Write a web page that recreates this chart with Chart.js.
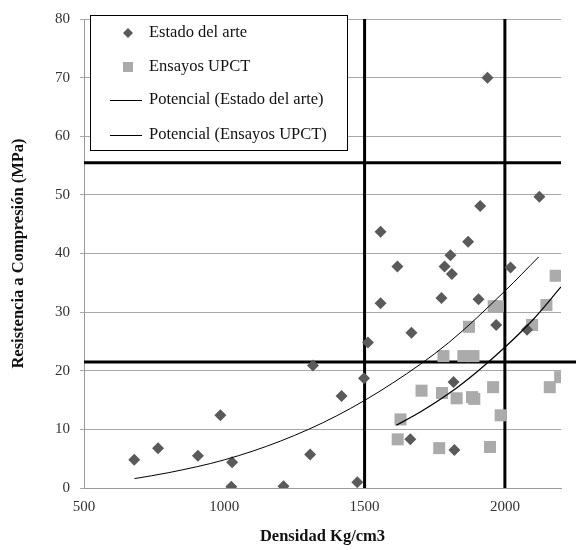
<!DOCTYPE html>
<html>
<head>
<meta charset="utf-8">
<script src="https://cdn.jsdelivr.net/npm/chart.js@4/dist/chart.umd.min.js"></script>
<style>
  html, body { margin: 0; padding: 0; background: #fff; }
  #wrap { width: 576px; height: 550px; }
</style>
</head>
<body>
<div id="wrap"><canvas id="canvas" width="576" height="550"></canvas></div>
<script>
// Estado del arte (diamantes)
var estadoX = [679, 764, 906, 986, 1028, 1025, 1211, 1306, 1316, 1418, 1474, 1498, 1512, 1557, 1557, 1617,
               1663, 1667, 1774, 1785, 1806, 1811, 1817, 1820, 1869, 1906, 1912, 1938, 1969, 2020, 2079, 2123];
var estadoY = [4.8, 6.8, 5.5, 12.4, 4.4, 0.2, 0.3, 5.7, 20.9, 15.7, 1.0, 18.7, 24.8, 43.7, 31.5, 37.8,
               8.3, 26.5, 32.4, 37.8, 39.7, 36.5, 18.1, 6.5, 42.0, 32.2, 48.1, 70.0, 27.8, 37.6, 27.0, 49.7];

// Ensayos UPCT (cuadrados)
var upctX = [1618, 1628, 1703, 1766, 1776, 1781, 1828, 1852, 1872, 1883, 1888, 1891, 1947, 1958, 1960, 1975,
             1985, 2097, 2148, 2160, 2181, 2197];
var upctY = [8.3, 11.7, 16.6, 6.8, 16.2, 22.5, 15.3, 22.5, 27.5, 15.5, 22.5, 15.2, 7.0, 17.2, 31.0, 31.0,
             12.4, 27.8, 31.2, 17.2, 36.2, 18.9];

// Lineas de tendencia potencial
var trendEstadoX = [680, 800, 1000, 1200, 1400, 1600, 1800, 2000, 2120];
var trendEstadoY = [1.6, 2.6, 4.8, 8.0, 12.3, 17.9, 24.8, 33.6, 39.4];
var trendUpctX = [1613, 1700, 1800, 1900, 2000, 2100, 2200];
var trendUpctY = [10.7, 13.0, 16.1, 19.8, 24.0, 28.7, 34.3];

// Lineas gruesas de referencia
var refVertical = [1500, 2000];
var refHorizontal = [55.5, 21.5];
var refHorizontalEnd = [2200, 2255];

var xTicks = [500, 1000, 1500, 2000];
var yTicks = [0, 10, 20, 30, 40, 50, 60, 70, 80];

var legendItems = ["Estado del arte", "Ensayos UPCT", "Potencial (Estado del arte)", "Potencial (Ensayos UPCT)"];

var SERIF = "'Liberation Serif', 'Times New Roman', serif";

function pairs(xs, ys) {
    return xs.map(function (x, i) { return { x: x, y: ys[i] }; });
}

var datasets = [];

refVertical.forEach(function (v) {
    datasets.push({
        data: [{ x: v, y: 0 }, { x: v, y: 80 }],
        showLine: true, borderColor: '#000', borderWidth: 3, pointRadius: 0, order: 10
    });
});
refHorizontal.forEach(function (h, i) {
    datasets.push({
        data: [{ x: 500, y: h }, { x: refHorizontalEnd[i], y: h }],
        showLine: true, borderColor: '#000', borderWidth: 3, pointRadius: 0, order: 10, clip: false
    });
});

datasets.push({
    label: legendItems[0],
    data: pairs(estadoX, estadoY),
    pointStyle: 'rectRot', pointRadius: 6, backgroundColor: '#5a5a5a', borderWidth: 0, order: 2
});
datasets.push({
    label: legendItems[1],
    data: pairs(upctX, upctY),
    pointStyle: 'rect', pointRadius: 8.5, backgroundColor: '#ababab', borderWidth: 0, order: 3
});
datasets.push({
    label: legendItems[2],
    data: pairs(trendEstadoX, trendEstadoY),
    showLine: true, borderColor: '#000', borderWidth: 1, pointRadius: 0, cubicInterpolationMode: 'monotone', order: 1
});
datasets.push({
    label: legendItems[3],
    data: pairs(trendUpctX, trendUpctY),
    showLine: true, borderColor: '#000', borderWidth: 1.2, pointRadius: 0, cubicInterpolationMode: 'monotone', order: 1
});

// Leyenda dentro del area del grafico
var boxLegend = {
    id: 'boxLegend',
    afterDraw: function (chart) {
        var ctx = chart.ctx;
        var x0 = 90.5, y0 = 15.5, w = 257, h = 135;
        ctx.save();
        ctx.fillStyle = '#fff';
        ctx.fillRect(x0, y0, w, h);
        ctx.strokeStyle = '#000';
        ctx.lineWidth = 1;
        ctx.strokeRect(x0, y0, w, h);

        var rows = [33, 67, 100, 135];
        var mx = 128;
        // diamante
        ctx.fillStyle = '#5a5a5a';
        ctx.beginPath();
        ctx.moveTo(mx, rows[0] - 5);
        ctx.lineTo(mx + 5, rows[0]);
        ctx.lineTo(mx, rows[0] + 5);
        ctx.lineTo(mx - 5, rows[0]);
        ctx.closePath();
        ctx.fill();
        // cuadrado
        ctx.fillStyle = '#ababab';
        ctx.fillRect(mx - 5, rows[1] - 5, 10, 10);
        // lineas
        ctx.strokeStyle = '#000';
        ctx.beginPath();
        ctx.moveTo(110, rows[2] + 0.5); ctx.lineTo(142, rows[2] + 0.5);
        ctx.moveTo(110, rows[3] + 0.5); ctx.lineTo(142, rows[3] + 0.5);
        ctx.stroke();

        ctx.fillStyle = '#111';
        ctx.font = '16.5px ' + SERIF;
        ctx.textBaseline = 'middle';
        ctx.textAlign = 'left';
        legendItems.forEach(function (t, i) {
            ctx.fillText(t, 149, rows[i]);
        });
        ctx.restore();
    }
};

window.onload = function () {
    var ctx = document.getElementById("canvas").getContext("2d");
    window.myChart = new Chart(ctx, {
        type: 'scatter',
        data: { datasets: datasets },
        plugins: [boxLegend],
        options: {
            responsive: false,
            animation: false,
            layout: { padding: { top: 13, right: 15, left: 0, bottom: 0 } },
            plugins: { legend: { display: false }, tooltip: { enabled: false } },
            scales: {
                x: {
                    type: 'linear', min: 500, max: 2200,
                    afterFit: function (scale) { scale.height = 62; },
                    afterBuildTicks: function (scale) {
                        scale.ticks = xTicks.map(function (v) { return { value: v }; });
                    },
                    grid: { display: false, drawTicks: false },
                    border: { display: true, color: '#9a9a9a', width: 1 },
                    ticks: {
                        padding: 10, color: '#333', font: { family: SERIF, size: 15 },
                        callback: function (v) { return String(v); }
                    },
                    title: {
                        display: true, text: 'Densidad Kg/cm3', color: '#111',
                        font: { family: SERIF, size: 16.5, weight: 'bold' }, padding: { top: 0, bottom: 3 }
                    }
                },
                y: {
                    type: 'linear', min: 0, max: 80,
                    afterFit: function (scale) { scale.width = 84; },
                    afterBuildTicks: function (scale) {
                        scale.ticks = yTicks.map(function (v) { return { value: v }; });
                    },
                    grid: { color: '#a8a8a8', lineWidth: 1, tickLength: 4 },
                    border: { display: true, color: '#9a9a9a', width: 1 },
                    ticks: {
                        padding: 10, color: '#333', font: { family: SERIF, size: 15 },
                        callback: function (v) { return String(v); }
                    },
                    title: {
                        display: true, text: 'Resistencia a Compresión (MPa)', color: '#111',
                        font: { family: SERIF, size: 16.5, weight: 'bold' }, padding: { top: 9, bottom: 0 }
                    }
                }
            }
        }
    });
};
</script>
</body>
</html>
